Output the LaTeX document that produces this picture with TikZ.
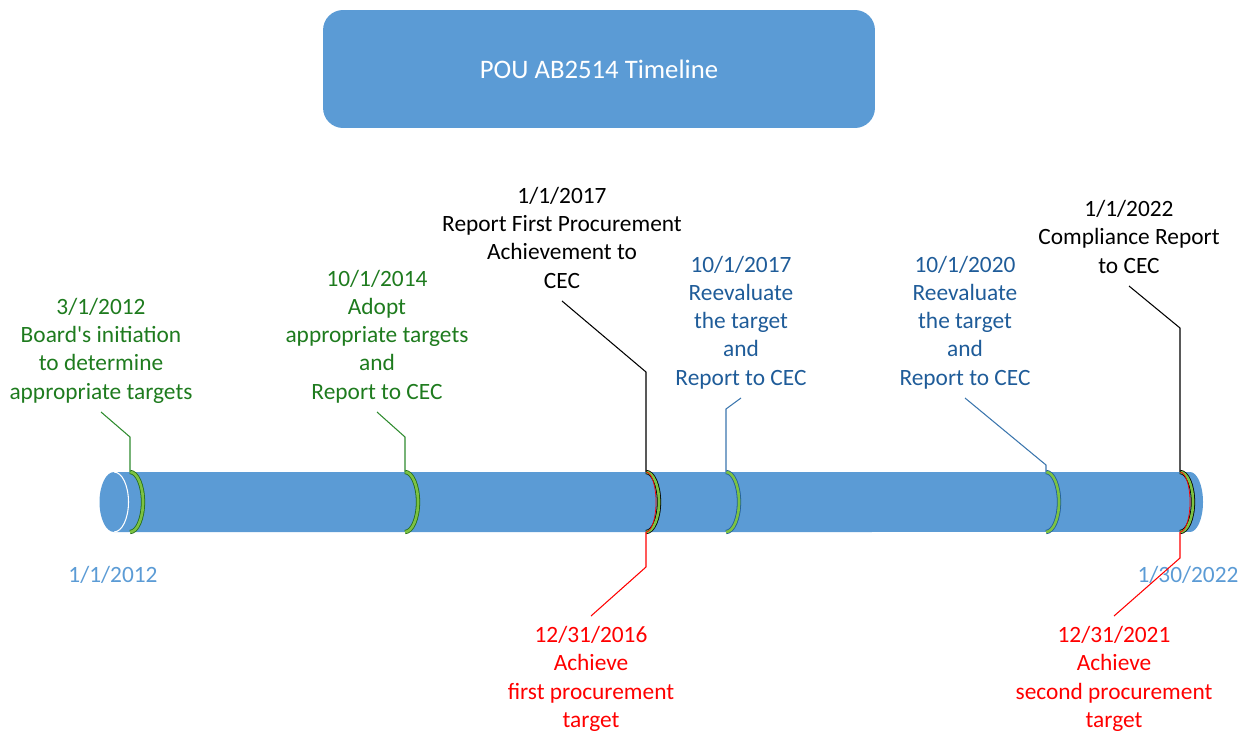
\documentclass[tikz,border=0pt]{standalone}
\usepackage{fontspec}
\setmainfont{Carlito}
\usetikzlibrary{positioning}
\usetikzlibrary{calc}

\definecolor{tlblue}{RGB}{91,155,213}
\definecolor{txgreen}{HTML}{1E7B1E}
\definecolor{txblue}{HTML}{1F5C99}
\definecolor{lngreen}{HTML}{2E8B2E}
\definecolor{lnblue}{HTML}{3A75AD}
\definecolor{rgfill}{HTML}{7CC242}
\definecolor{rgdark}{HTML}{236B1A}

\tikzset{
  lbl/.style={align=center, font=\fontsize{13.3pt}{16.1pt}\selectfont, inner xsep=2pt, inner ysep=0.25cm},
  up/.style={lbl, anchor=south, text depth=0pt},
  down/.style={lbl, anchor=north, inner ysep=0.26cm},
  lead/.style={line width=0.6pt},
  ring/.style={line width=0.45pt, double distance=1.5pt},
  halfarc/.style={start angle=90, end angle=-90, x radius=0.26cm, y radius=0.6cm}
}

\begin{document}
\begin{tikzpicture}[x=0.02cm,y=-0.02cm]
\useasboundingbox (0,0) rectangle (1251,734);

% title
\node[fill=tlblue, rounded corners=0.4cm, minimum width=11.04cm, minimum height=2.36cm, text=white, font=\fontsize{15.2pt}{18pt}\selectfont](title) at (599,69){POU AB2514 Timeline};

% cylinder
\fill[tlblue] (114,472) -- (1190,472) arc[halfarc] -- (114,532)
  arc[start angle=270, end angle=90, x radius=0.29cm, y radius=0.6cm] -- cycle;
\draw[white, line width=0.6pt] (114,472) arc[start angle=90, end angle=-90, x radius=0.29cm, y radius=0.6cm];

% marker points
\coordinate (m1) at (130,472);
\coordinate (m2) at (405,472);
\coordinate (m3) at (646,472);
\coordinate (m4) at (726,472);
\coordinate (m5) at (1046,472);
\coordinate (m6) at (1180,472);
\coordinate (n3) at (646,532);
\coordinate (n6) at (1180,532);

% rings
\draw[ring, draw=rgdark, double=rgfill] (m1) arc[halfarc];
\draw[ring, draw=rgdark, double=rgfill] (m2) arc[halfarc];
\draw[ring, draw=black, double=rgfill] (m3) arc[halfarc];
\draw[red, line width=0.4pt] (m3) arc[start angle=90, end angle=-90, x radius=0.2cm, y radius=0.6cm];
\draw[ring, draw=txblue, double=rgfill] (m4) arc[halfarc];
\draw[ring, draw=txblue, double=rgfill] (m5) arc[halfarc];
\draw[ring, draw=black, double=rgfill] (m6) arc[halfarc];
\draw[red, line width=0.4pt] (m6) arc[start angle=90, end angle=-90, x radius=0.2cm, y radius=0.6cm];

% labels above
\node[up, text=txgreen](l1) at (101,412){3/1/2012\\Board\textquotesingle s initiation\\to determine\\appropriate targets};
\node[up, text=txgreen](l2) at (377,412){10/1/2014\\Adopt\\appropriate targets\\and\\Report to CEC};
\node[up, text=black](l3) at (562,301){1/1/2017\\Report First Procurement\\Achievement to\\CEC};
\node[up, text=txblue](l4) at (741,398){10/1/2017\\Reevaluate\\the target\\and\\Report to CEC};
\node[up, text=txblue](l5) at (965,398){10/1/2020\\Reevaluate\\the target\\and\\Report to CEC};
\node[up, text=black](l6) at (1129,286){1/1/2022\\Compliance Report\\to CEC};

% labels below
\node[down, text=red](l7) at (591,613){12/31/2016\\Achieve\\first procurement\\target};
\node[down, text=red](l8) at (1114,613){12/31/2021\\Achieve\\second procurement\\target};

% end dates
\node[lbl, inner ysep=0pt, text=tlblue](d1) at (113,575){1/1/2012};
\node[lbl, inner ysep=0pt, text=tlblue](d2) at (1188,575){1/30/2022};

% bends
\coordinate (k1) at (130,437);
\coordinate (k2) at (405,437);
\coordinate (k3) at (646,372);
\coordinate (k4) at (726,409);
\coordinate (k5) at (1046,465);
\coordinate (k6) at (1180,328);
\coordinate (k7) at (646,567);
\coordinate (k8) at (1180,558);

\draw[lead, lngreen] (l1.south) -- (k1) -- (m1);
\draw[lead, lngreen] (l2.south) -- (k2) -- (m2);
\draw[lead, black] (l3.south) -- (k3) -- (m3);
\draw[lead, lnblue] (l4.south) -- (k4) -- (m4);
\draw[lead, lnblue] (l5.south) -- (k5) -- (m5);
\draw[lead, black] (l6.south) -- (k6) -- (m6);
\draw[lead, red] (n3) -- (k7) -- ([yshift=-0.06cm]l7.north);
\draw[lead, red] (n6) -- (k8) -- ([yshift=-0.06cm]l8.north);
\end{tikzpicture}
\end{document}
